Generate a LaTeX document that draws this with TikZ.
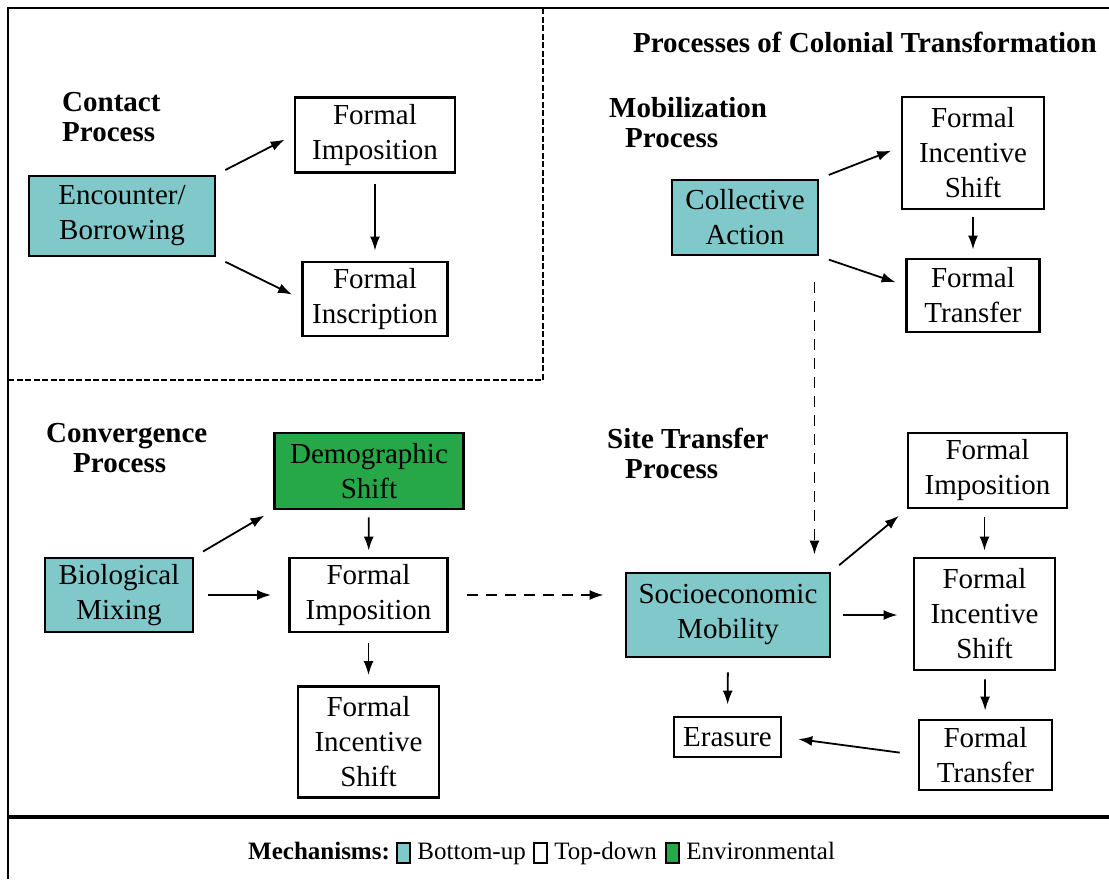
\documentclass[tikz,border=0pt]{standalone}
\usepackage{fontspec}
\setmainfont{Liberation Serif}
\usepackage{tikz}
\usetikzlibrary{arrows.meta,positioning}

\definecolor{bottomup}{RGB}{128,200,201}
\definecolor{environ}{RGB}{38,168,72}

\begin{document}
\begin{tikzpicture}[x=1pt,y=-1pt]
  \tikzstyle{mech}=[draw, line width=2.9pt, align=center, inner sep=0pt, font=\fontsize{29}{35}\selectfont]
  \tikzstyle{topdown}=[mech, fill=white]
  \tikzstyle{bottom}=[mech, fill=bottomup]
  \tikzstyle{env}=[mech, fill=environ]
  \tikzstyle{heading}=[align=left, inner sep=0pt, anchor=west, font=\fontsize{29}{30}\selectfont\bfseries]
  \tikzstyle{flow}=[-{Latex[length=14pt,width=10pt]}, line width=1.8pt, shorten <=10pt, shorten >=10pt]
  \tikzstyle{link}=[flow, dash pattern=on 11pt off 8pt]
  \tikzstyle{swatch}=[draw, line width=2.2pt, minimum width=13pt, minimum height=20pt, inner sep=0pt]
  \tikzstyle{key}=[inner sep=0pt, text height=17pt, text depth=5pt, font=\fontsize{25}{27}\selectfont]

  \useasboundingbox (0,0) rectangle (1109,879);

  % frame, contact corner and legend rule
  \draw[line width=2.8pt] (8,879) -- (8,8) -- (1109,8);
  \draw[line width=2.2pt, dash pattern=on 6pt off 2.5pt] (8,380) -- (543,380) -- (543,8);
  \draw[line width=3.5pt] (8,817) -- (1109,817);

  \node[font=\fontsize{29}{30}\selectfont\bfseries] (title) at (865,42) {Processes of Colonial Transformation};

  % contact
  \node[heading] (contact) at (62,117.5) {Contact\\Process};
  \node[bottom, minimum width=186pt, minimum height=80pt] (enc) at (122,216) {Encounter/\\Borrowing};
  \node[topdown, minimum width=160pt, minimum height=75pt] (cimp) at (375,135) {Formal\\Imposition};
  \node[topdown, minimum width=145pt, minimum height=74pt] (cinsc) at (375,299) {Formal\\Inscription};
  \draw[flow] (enc.north east) -- (cimp.west);
  \draw[flow] (enc.south east) -- (cinsc.west);
  \draw[flow] (cimp) -- (cinsc);

  % mobilization
  \node[heading] (mobil) at (609,122.5) {Mobilization\\\hspace*{16pt}Process};
  \node[bottom, minimum width=146pt, minimum height=75pt] (coll) at (745,217.5) {Collective\\Action};
  \node[topdown, minimum width=142pt, minimum height=112pt] (mshift) at (973,153) {Formal\\Incentive\\Shift};
  \node[topdown, minimum width=133pt, minimum height=73pt] (mtrans) at (973,295.5) {Formal\\Transfer};
  \draw[flow] (coll.north east) -- ([yshift=6pt]mshift.west);
  \draw[flow] (coll.south east) -- ([yshift=10pt]mtrans.west);
  \draw[flow, shorten <=7pt, shorten >=8pt] (mshift) -- (mtrans);

  % convergence
  \node[heading] (conv) at (46,448) {Convergence\\\hspace*{27pt}Process};
  \node[env, minimum width=189pt, minimum height=76pt] (demo) at (369,471) {Demographic\\Shift};
  \node[bottom, minimum width=148pt, minimum height=74pt] (bio) at (119,595) {Biological\\Mixing};
  \node[topdown, minimum width=158pt, minimum height=74pt] (vimp) at (368.5,595) {Formal\\Imposition};
  \node[topdown, minimum width=141pt, minimum height=111pt] (vshift) at (368.5,742) {Formal\\Incentive\\Shift};
  \draw[flow] (bio.north east) -- (demo.south west);
  \draw[flow, shorten <=14pt, shorten >=17pt] (bio.east) -- (vimp.west);
  \draw[flow, shorten <=7pt, shorten >=6pt] (demo) -- (vimp);
  \draw[flow] (vimp) -- (vshift);

  % site transfer
  \node[heading] (site) at (607,453.5) {Site Transfer\\\hspace*{18pt}Process};
  \node[bottom, minimum width=204pt, minimum height=84pt] (socio) at (728,615) {Socioeconomic\\Mobility};
  \node[topdown, minimum width=159pt, minimum height=75pt] (simp) at (987.5,470.5) {Formal\\Imposition};
  \node[topdown, minimum width=141pt, minimum height=112pt] (sshift) at (984.5,614) {Formal\\Incentive\\Shift};
  \node[topdown, minimum width=133pt, minimum height=70pt] (strans) at (985.5,755) {Formal\\Transfer};
  \node[topdown, minimum width=107pt, minimum height=40pt] (erasure) at (727.5,737) {Erasure};
  \draw[flow] (socio.north east) -- (simp.south west);
  \draw[flow, shorten <=12pt, shorten >=15pt] (socio.east) -- (socio.east -| sshift.west);
  \draw[flow, shorten <=8pt, shorten >=6pt] (simp.south -| sshift.north) -- (sshift.north);
  \draw[flow, shorten <=8pt, shorten >=8pt] (sshift) -- (strans);
  \draw[flow, shorten <=18pt, shorten >=16pt] (strans.west) -- (erasure.east);
  \draw[flow, shorten <=14pt, shorten >=11pt] (socio.south) -- (erasure.north);

  % links between processes
  \draw[link, shorten <=26pt, shorten >=17pt] ([xshift=-5pt]coll.south east) -- ([xshift=-5pt]coll.south east |- socio.north);
  \draw[link, shorten <=18pt, shorten >=21pt] (vimp.east) -- (vimp.east -| socio.west);

  % legend
  \node[key, font=\fontsize{25}{27}\selectfont\bfseries, anchor=west] (legend) at (248,853) {Mechanisms:};
  \node[swatch, fill=bottomup, right=6pt of legend] (kbu) {};
  \node[key, right=6pt of kbu] (tbu) {Bottom-up};
  \node[swatch, fill=white, right=7pt of tbu] (ktd) {};
  \node[key, right=6pt of ktd] (ttd) {Top-down};
  \node[swatch, fill=environ, right=8pt of ttd] (kenv) {};
  \node[key, right=6pt of kenv] (tenv) {Environmental};
\end{tikzpicture}
\end{document}
